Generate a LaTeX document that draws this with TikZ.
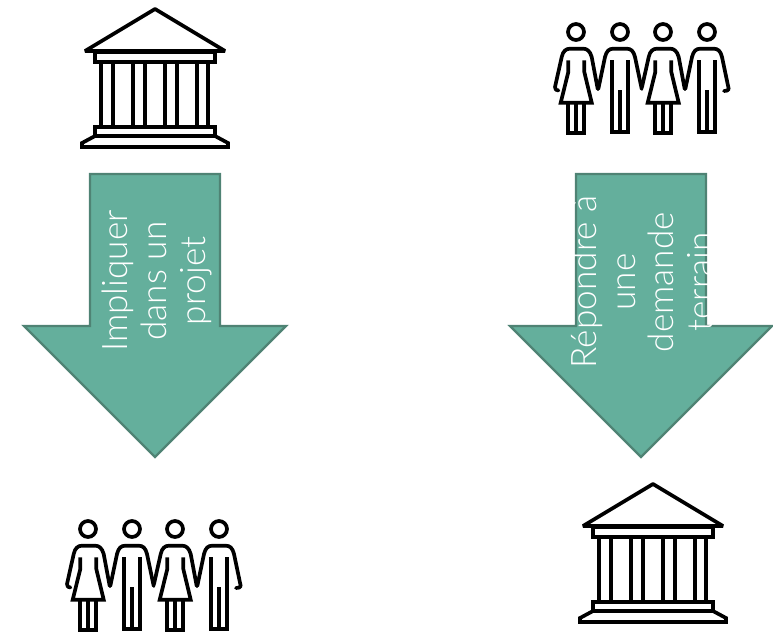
\documentclass[tikz,border=0pt]{standalone}
\usepackage{fontspec}
\setmainfont{Lato Light}
\definecolor{arrowfill}{HTML}{64AF9C}
\definecolor{arrowline}{HTML}{4F8374}
\tikzset{
	icon/.style={draw=black, line width=2.1pt, line join=miter, fill=none},
	limb/.style={icon, line join=round, line cap=round},
	bigarrow/.style={draw=arrowline, line width=1.3pt, fill=arrowfill},
	arrowtext/.style={text=white, rotate=90, align=center, inner sep=0pt,
		font=\fontsize{20}{22}\selectfont},
	temple/.pic={
		% Roof and beam
		\draw[icon, line join=bevel] (0,0) -- (70,42) -- (-70,42) -- cycle;
		\draw[icon] (-60,43) rectangle (60,53);
		% Columns
		\draw[icon] (-54,53) -- (-54,118);
		\draw[icon] (-42,53) -- (-42,118);
		\draw[icon] (-22,53) -- (-22,118);
		\draw[icon] (-10,53) -- (-10,118);
		\draw[icon] (10,53) -- (10,118);
		\draw[icon] (22,53) -- (22,118);
		\draw[icon] (42,53) -- (42,118);
		\draw[icon] (53,53) -- (53,118);
		% Steps
		\draw[icon] (-60,118) -- (60,118) -- (60,127) -- (-60,127) -- cycle;
		\draw[icon] (-60,127) -- (-73,134) -- (-73,138) -- (73,138) -- (73,134) -- (60,127);
	},
	woman/.pic={
		\draw[icon] (0,0) circle[radius=8];
		% Arms
		\draw[limb] (-21,55) -- (-14.3,25) .. controls (-13,19) and (-10,16.7) .. (-6,16.7) -- (7.3,16.7) .. controls (11,16.7) and (14,19) .. (15.7,25) -- (21.7,57);
		% Dress
		\draw[icon] (-7.7,28.3) -- (-7.7,40) -- (-15.3,70.7) -- (15.7,70.7) -- (8.3,40) -- (8.3,28.3);
		% Legs
		\draw[icon] (-8.3,70.7) -- (-8.3,100.7) -- (8.3,100.7) -- (8.3,70.7);
		\draw[icon] (0,70.7) -- (0,100.7);
	},
	man/.pic={
		\draw[icon] (0,0) circle[radius=8];
		% Arms
		\draw[limb] (-21.7,57) -- (-15,25) .. controls (-13.5,19) and (-11,16.7) .. (-6.7,16.7) -- (6.7,16.7) .. controls (11,16.7) and (13.5,19) .. (15,25) -- (21.7,57);
		% Body
		\draw[icon] (-8.3,28.3) -- (-8.3,100) -- (8.3,100) -- (8.3,28.3);
		\draw[icon] (0,58) -- (0,100);
	},
	people/.pic={
		\pic at (0,0) {woman};
		\pic at (44,0) {man};
		\pic at (87,0) {woman};
		\pic at (131,0) {man};
		% Hooks of the outer hands
		\draw[limb] (-21,55) .. controls (-21,57.5) and (-20,58.5) .. (-17.5,58.5);
		\draw[limb] (152.7,57) .. controls (152,58.5) and (151,59) .. (148,59);
	}
}

\begin{document}
\begin{tikzpicture}[x=0.02cm, y=-0.02cm]
	\useasboundingbox (0,0) rectangle (773,632);
	% Left column
	\pic at (155,9) {temple};
	\draw[bigarrow] (90,174) -- (220,174) -- (220,326) -- (286,326) -- (155,457) -- (24,326) -- (90,326) -- cycle;
	\node[arrowtext] (impliquer) at (157,281) {Impliquer\\dans un\\projet};
	\pic at (88,529) {people};
	% Right column
	\pic at (576,32) {people};
	\draw[bigarrow] (576,174) -- (706,174) -- (706,326) -- (772,326) -- (641,457) -- (510,326) -- (576,326) -- cycle;
	\node[arrowtext] (repondre) at (642,282) {Répondre à\\une\\demande\\terrain};
	\pic at (653,484) {temple};
\end{tikzpicture}
\end{document}
